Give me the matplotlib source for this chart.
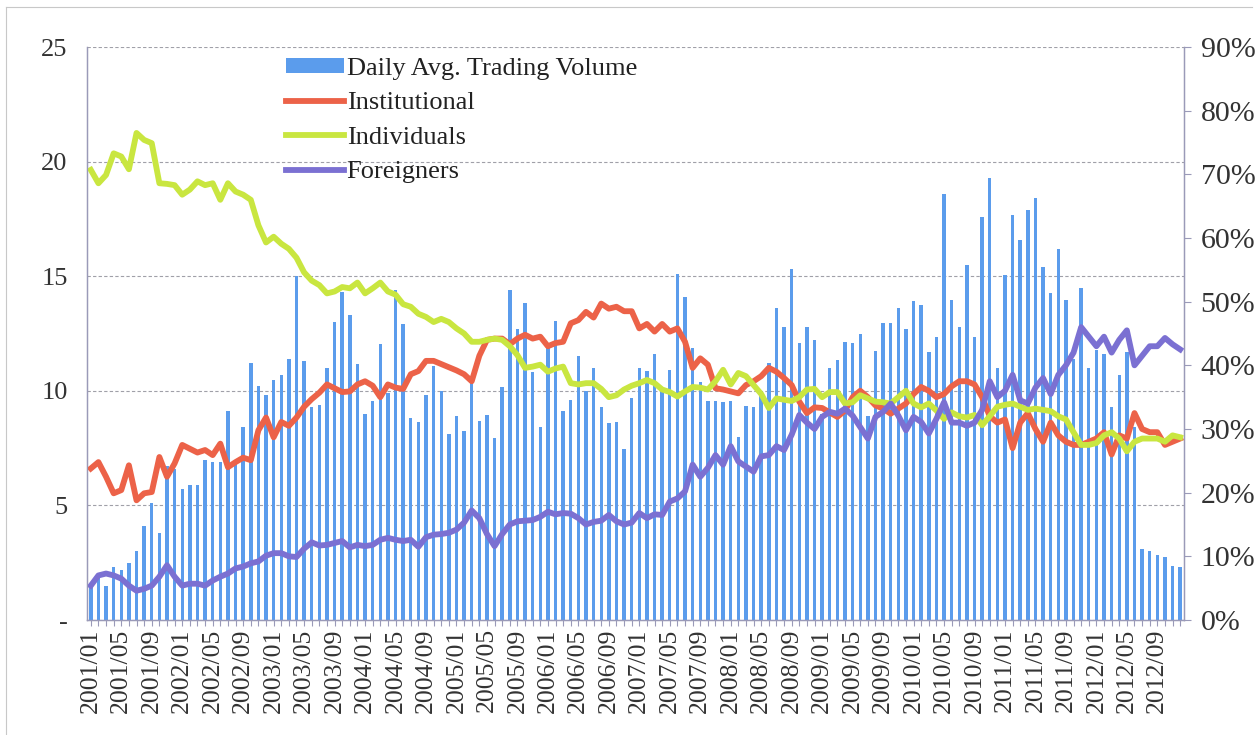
import matplotlib
matplotlib.use("Agg")
import matplotlib.pyplot as plt
from matplotlib.lines import Line2D
from matplotlib.patches import Patch

months = [f"{y}/{m:02d}" for y in range(2001, 2013) for m in range(1, 13)]

volume = [
    1.6, 1.9, 1.5, 2.3, 2.2, 2.5, 3.0, 4.1, 5.1, 3.8, 6.7, 6.6,
    5.7, 5.9, 5.9, 7.0, 6.9, 6.9, 9.1, 6.9, 8.4, 11.2, 10.2, 9.8,
    10.45, 10.7, 11.4, 15.0, 11.3, 9.3, 9.4, 11.0, 13.0, 14.3, 13.3, 11.15,
    9.0, 9.55, 12.05, 9.9, 14.4, 12.9, 8.8, 8.65, 9.8, 11.1, 10.0, 8.1,
    8.9, 8.25, 10.4, 8.7, 8.95, 7.95, 10.15, 14.4, 12.7, 13.85, 10.8, 8.4,
    11.95, 13.05, 9.1, 9.6, 11.5, 10.0, 11.0, 9.3, 8.6, 8.65, 7.45, 9.7,
    11.0, 10.85, 11.6, 10.0, 10.9, 15.1, 14.1, 11.85, 10.4, 9.55, 9.55, 9.5,
    9.55, 8.0, 9.35, 9.3, 10.0, 11.2, 13.6, 12.8, 15.3, 12.1, 12.8, 12.2,
    9.0, 11.0, 11.35, 12.15, 12.1, 12.5, 8.9, 11.75, 12.95, 12.95, 13.6, 12.7,
    13.9, 13.75, 11.7, 12.35, 18.6, 13.95, 12.8, 15.5, 12.35, 17.6, 19.3, 11.0,
    15.05, 17.65, 16.6, 17.9, 18.4, 15.4, 14.25, 16.2, 13.95, 11.4, 14.5, 11.0,
    11.8, 11.6, 9.3, 10.7, 11.7, 8.4, 3.1, 3.0, 2.85, 2.75, 2.35, 2.3,
]

institutional = [
    23.8, 24.8, 22.5, 19.9, 20.4, 24.3, 18.8, 19.9, 20.1, 25.6, 22.5, 24.6,
    27.5, 26.9, 26.3, 26.7, 25.9, 27.7, 24.0, 24.8, 25.5, 25.1, 29.8, 31.8,
    28.7, 31.1, 30.5, 31.8, 33.5, 34.7, 35.7, 37.0, 36.4, 35.8, 35.9, 37.0,
    37.5, 36.8, 35.0, 37.0, 36.5, 36.3, 38.6, 39.1, 40.7, 40.7, 40.2, 39.7,
    39.2, 38.6, 37.5, 41.5, 44.0, 44.2, 44.2, 43.3, 44.2, 44.8, 44.2, 44.5,
    43.0, 43.5, 43.7, 46.6, 47.1, 48.4, 47.5, 49.7, 48.9, 49.2, 48.5, 48.5,
    45.8, 46.5, 45.3, 46.5, 45.3, 45.8, 43.7, 39.6, 41.1, 40.1, 36.4, 36.2,
    35.9, 35.6, 36.9, 37.5, 38.3, 39.6, 39.0, 38.0, 36.9, 34.3, 32.5, 33.4,
    33.3, 32.6, 31.9, 32.9, 35.0, 36.0, 35.0, 33.7, 33.2, 32.4, 33.2, 34.0,
    35.5, 36.6, 36.0, 35.0, 35.5, 36.7, 37.5, 37.5, 37.0, 35.0, 32.0, 31.0,
    31.5, 27.0, 31.0, 32.5, 30.0, 28.0, 31.0, 29.0, 28.0, 27.5, 27.5, 28.0,
    28.5, 29.5, 26.0, 29.0, 28.5, 32.5, 30.0, 29.5, 29.5, 27.5, 28.0, 28.5,
]

individuals = [
    70.7, 68.6, 69.9, 73.3, 72.8, 70.8, 76.5, 75.4, 74.9, 68.6, 68.5, 68.3,
    66.8, 67.6, 68.9, 68.3, 68.6, 66.0, 68.6, 67.3, 66.8, 66.0, 62.0, 59.3,
    60.2, 59.1, 58.3, 56.9, 54.6, 53.3, 52.6, 51.3, 51.6, 52.3, 52.1, 53.0,
    51.3, 52.1, 53.0, 51.6, 51.1, 49.6, 49.2, 48.1, 47.6, 46.8, 47.3, 46.8,
    45.8, 45.0, 43.7, 43.7, 44.0, 44.2, 44.0, 43.0, 41.6, 39.6, 39.8, 40.1,
    39.0, 39.5, 39.8, 37.2, 37.0, 37.2, 37.2, 36.3, 35.0, 35.3, 36.2, 36.8,
    37.2, 37.7, 37.2, 36.2, 35.8, 35.1, 35.9, 36.6, 36.5, 36.2, 37.5, 39.3,
    37.0, 38.8, 38.3, 36.9, 35.5, 33.3, 34.8, 34.6, 34.4, 35.0, 36.2, 36.3,
    35.0, 35.8, 35.8, 34.0, 34.2, 35.3, 34.8, 34.3, 34.2, 34.0, 35.0, 36.0,
    34.0, 33.4, 34.0, 32.9, 31.6, 32.6, 32.0, 31.8, 32.2, 30.6, 32.0, 33.5,
    33.8, 34.0, 33.5, 33.0, 33.2, 33.0, 32.8, 32.0, 31.5, 29.5, 27.5, 27.5,
    27.8, 29.0, 29.5, 28.5, 26.5, 28.0, 28.5, 28.5, 28.5, 28.0, 29.0, 28.7,
]

foreigners = [
    5.4, 7.0, 7.3, 7.0, 6.5, 5.4, 4.6, 4.9, 5.4, 6.8, 8.6, 6.8,
    5.4, 5.7, 5.7, 5.4, 6.2, 6.8, 7.3, 8.1, 8.4, 8.9, 9.2, 10.1,
    10.5, 10.5, 10.0, 9.9, 11.2, 12.2, 11.7, 11.8, 12.1, 12.4, 11.4, 11.8,
    11.6, 11.8, 12.6, 12.9, 12.6, 12.4, 12.6, 11.5, 13.0, 13.4, 13.5, 13.7,
    14.2, 15.3, 17.2, 16.0, 13.5, 11.6, 13.5, 15.0, 15.5, 15.6, 15.7, 16.2,
    17.0, 16.6, 16.8, 16.7, 16.0, 15.0, 15.4, 15.6, 16.5, 15.5, 15.0, 15.3,
    16.8, 16.0, 16.6, 16.5, 18.6, 19.1, 20.2, 24.4, 22.5, 23.9, 25.9, 24.4,
    27.3, 24.9, 24.1, 23.3, 25.7, 25.9, 27.3, 26.7, 29.1, 32.2, 31.0, 30.0,
    31.9, 32.7, 32.4, 33.2, 32.1, 30.3, 28.5, 31.9, 32.7, 34.0, 32.1, 29.8,
    31.9, 31.1, 29.3, 31.6, 34.2, 31.0, 31.0, 30.5, 31.0, 33.0, 37.5, 35.0,
    36.0, 38.5, 34.5, 34.0, 36.5, 38.0, 35.5, 38.5, 40.0, 42.0, 46.0, 44.5,
    43.0, 44.5, 42.0, 44.0, 45.5, 40.0, 41.5, 43.0, 43.0, 44.3, 43.3, 42.5,
]

left_ticks = [0, 5, 10, 15, 20, 25]
left_labels = ['-', '5', '10', '15', '20', '25']
right_ticks = [0, 10, 20, 30, 40, 50, 60, 70, 80, 90]
right_labels = [f"{v}%" for v in right_ticks]

c_bar = '#5b9cec'
c_inst = '#ec6248'
c_ind = '#c9e640'
c_for = '#7b70d2'
c_axis = '#9a9ab8'

plt.rcParams['font.family'] = ['Liberation Serif', 'DejaVu Serif']

W, H = 1259, 735
fig = plt.figure(figsize=(W / 100, H / 100), dpi=100)
ax = fig.add_axes([87 / W, 1 - 620 / H, 1097 / W, 573 / H])

x = list(range(len(months)))
ax.bar(x, volume, width=0.45, color=c_bar, zorder=2)
ax.set_xlim(-0.5, len(months) - 0.5)
ax.set_ylim(0, 25)
ax.set_yticks(left_ticks)
ax.set_yticklabels(left_labels, fontsize=19, color='#333333')
ax.tick_params(axis='y', length=0, pad=14)
ax.set_axisbelow(True)
ax.grid(axis='y', linestyle=(0, (3, 2)), color='#a0a0a8', linewidth=0.8)

ax.set_xticks(x)
ax.set_xticklabels([m if i % 4 == 0 else '' for i, m in enumerate(months)],
                   rotation=90, fontsize=18.5, color='#333333')
ax.tick_params(axis='x', length=4, width=0.8, color=c_axis, pad=2)

for s in ['left', 'right', 'bottom']:
    ax.spines[s].set_color(c_axis)
    ax.spines[s].set_linewidth(1.0)
ax.spines['top'].set_visible(False)

ax2 = ax.twinx()
ax2.set_ylim(0, 90)
ax2.set_yticks(right_ticks)
ax2.set_yticklabels(right_labels, fontsize=21.5, color='#333333')
ax2.tick_params(axis='y', length=5, width=0.8, color=c_axis, pad=7)
for s in ['left', 'right', 'bottom']:
    ax2.spines[s].set_color(c_axis)
ax2.spines['top'].set_visible(False)

lw = 4.2
ax2.plot(x, institutional, color=c_inst, lw=lw, solid_joinstyle='round')
ax2.plot(x, individuals, color=c_ind, lw=lw, solid_joinstyle='round')
ax2.plot(x, foreigners, color=c_for, lw=lw, solid_joinstyle='round')

handles = [
    Patch(facecolor=c_bar, edgecolor='none'),
    Line2D([], [], color=c_inst, lw=lw),
    Line2D([], [], color=c_ind, lw=lw),
    Line2D([], [], color=c_for, lw=lw),
]
labels = ['Daily Avg. Trading Volume', 'Institutional', 'Individuals', 'Foreigners']
leg = fig.legend(handles, labels, loc='upper left',
                 bbox_to_anchor=(286 / W, 1 - 58 / H), frameon=False,
                 fontsize=19, handlelength=2.2, handleheight=0.5,
                 handletextpad=0.1, labelspacing=0.47, borderpad=0,
                 borderaxespad=0)
for t in leg.get_texts():
    t.set_color('#222222')

# scan-like outer frame
fig.add_artist(Line2D([6 / W, 1252 / W], [1 - 7 / H, 1 - 7 / H],
                      color='#c8c8c8', lw=0.8))
fig.add_artist(Line2D([6 / W, 6 / W], [1 - 7 / H, 0], color='#c8c8c8', lw=0.8))

fig.savefig('out.png', dpi=100)
